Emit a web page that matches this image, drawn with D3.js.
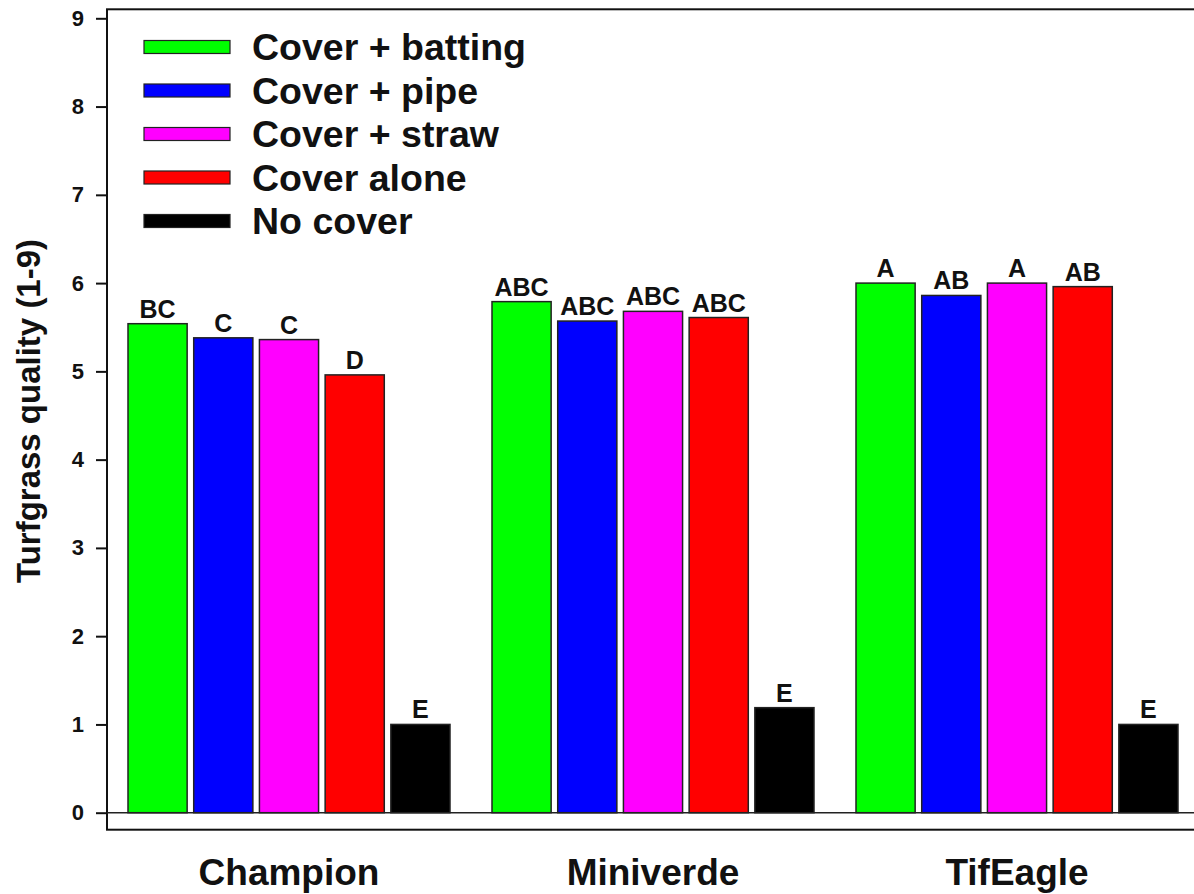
<!DOCTYPE html>
<html>
<head>
<meta charset="utf-8">
<script src="https://cdn.jsdelivr.net/npm/d3@7"></script>
<style>
  html, body { margin: 0; padding: 0; background: #fff; }
  svg { display: block; font-family: "Liberation Sans", Arial, Helvetica, sans-serif; font-weight: bold; }
  .yax text { font-size: 22px !important; font-weight: bold; font-family: "Liberation Sans", Arial, sans-serif; }
</style>
</head>
<body>
<svg id="chart" width="1194" height="894"></svg>
<script>
// ---- data ----
const cultivars = ["Champion", "Miniverde", "TifEagle"];
const treatments = ["Cover + batting", "Cover + pipe", "Cover + straw", "Cover alone", "No cover"];
const colors = ["#00ff00", "#0000ff", "#ff00ff", "#ff0000", "#000000"];
const champion = [5.54, 5.38, 5.36, 4.96, 1.00];
const miniverde = [5.79, 5.57, 5.68, 5.61, 1.19];
const tifeagle = [6.00, 5.86, 6.00, 5.96, 1.00];
const championLetters = ["BC", "C", "C", "D", "E"];
const miniverdeLetters = ["ABC", "ABC", "ABC", "ABC", "E"];
const tifeagleLetters = ["A", "AB", "A", "AB", "E"];
const yTicks = [0, 1, 2, 3, 4, 5, 6, 7, 8, 9];
const yTitle = "Turfgrass quality (1-9)";

const values = [champion, miniverde, tifeagle];
const letters = [championLetters, miniverdeLetters, tifeagleLetters];
const rows = [];
cultivars.forEach((c, gi) => treatments.forEach((t, ti) => {
  rows.push({ cultivar: c, treatment: t, value: values[gi][ti], letter: letters[gi][ti], color: colors[ti] });
}));

// ---- layout ----
const svg = d3.select("#chart");
const left = 107;
const y = d3.scaleLinear().domain([0, 9]).range([812.7, 18.3]);
const x0 = d3.scaleBand().domain(cultivars).range([left, left + 3 * 364]).padding(0);
const x1 = d3.scaleBand().domain(treatments).range([21, 343]).paddingInner(0.1).paddingOuter(0);

const frameTop = y(9) - 9;
const frameBottom = y(0) + 17;
const frameRight = 1300;

// frame (left, top, bottom; right side beyond image)
svg.append("rect")
  .attr("x", left).attr("y", frameTop)
  .attr("width", frameRight - left).attr("height", frameBottom - frameTop)
  .attr("fill", "none").attr("stroke", "#111").attr("stroke-width", 2);

// zero line
svg.append("line")
  .attr("x1", left).attr("x2", frameRight)
  .attr("y1", y(0)).attr("y2", y(0))
  .attr("stroke", "#222").attr("stroke-width", 1.6);

// y axis ticks + labels
const yAxis = d3.axisLeft(y).tickValues(yTicks).tickSize(11).tickPadding(12).tickFormat(d3.format("d"));
const gy = svg.append("g").attr("class", "yax").attr("transform", `translate(${left},0)`).call(yAxis);
gy.attr("font-size", 22).attr("font-family", "'Liberation Sans', Arial, sans-serif").attr("font-weight", "bold");
gy.select(".domain").remove();
gy.selectAll(".tick line").attr("stroke", "#111").attr("stroke-width", 2);
gy.selectAll(".tick text").attr("fill", "#111");

// y title
svg.append("text")
  .attr("transform", `translate(40,411) rotate(-90)`)
  .attr("text-anchor", "middle")
  .attr("fill", "#111")
  .style("font-size", "33px")
  .text(yTitle);

// bars
const bars = svg.append("g");
bars.selectAll("rect").data(rows).join("rect")
  .attr("x", d => x0(d.cultivar) + x1(d.treatment))
  .attr("y", d => y(d.value))
  .attr("width", x1.bandwidth())
  .attr("height", d => y(0) - y(d.value))
  .attr("fill", d => d.color)
  .attr("stroke", "#222").attr("stroke-width", 1.5);

// letters
svg.append("g").selectAll("text").data(rows).join("text")
  .attr("x", d => x0(d.cultivar) + x1(d.treatment) + x1.bandwidth() / 2)
  .attr("y", d => y(d.value) - 6)
  .attr("text-anchor", "middle")
  .attr("fill", "#111")
  .style("font-size", "25px")
  .text(d => d.letter);

// x category labels
const xAxis = d3.axisBottom(x0).tickSize(0).tickPadding(0);
const gx = svg.append("g").attr("transform", `translate(0,${y(0)})`).call(xAxis);
gx.attr("font-size", 37).attr("font-family", "'Liberation Sans', Arial, sans-serif").attr("font-weight", "bold");
gx.select(".domain").remove();
gx.selectAll(".tick text")
  .attr("y", 72).attr("dy", 0)
  .attr("fill", "#111");

// legend
const legend = svg.append("g");
const lg = legend.selectAll("g").data(treatments).join("g")
  .attr("transform", (d, i) => `translate(144,${47 + i * 43.5})`);
lg.append("rect")
  .attr("x", 0).attr("y", -6.5).attr("width", 86).attr("height", 13)
  .attr("fill", (d, i) => colors[i]).attr("stroke", "#222").attr("stroke-width", 1.2);
lg.append("text")
  .attr("x", 108).attr("y", 13)
  .attr("fill", "#111")
  .style("font-size", "37.5px")
  .text(d => d);
</script>
</body>
</html>
